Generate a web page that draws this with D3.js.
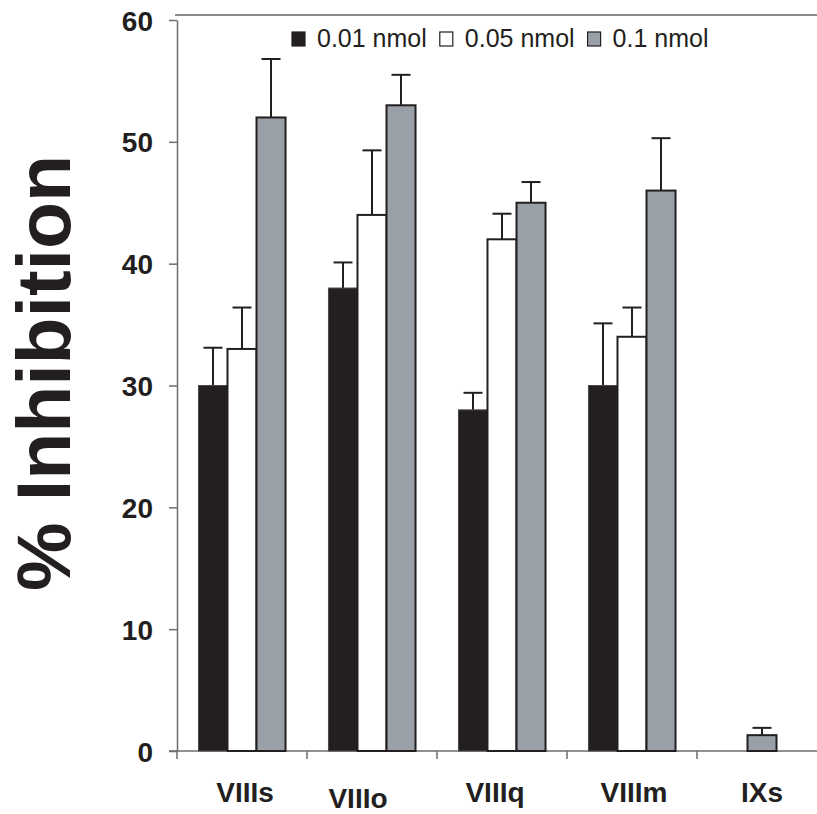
<!DOCTYPE html>
<html>
<head>
<meta charset="utf-8">
<script src="https://cdn.jsdelivr.net/npm/d3@7"></script>
<style>
  body { margin: 0; background: #fff; }
  svg { display: block; font-family: "Liberation Sans", Arial, sans-serif; }
</style>
</head>
<body>
<div id="chart"></div>
<script>
//data
var categories = ["VIIIs", "VIIIo", "VIIIq", "VIIIm", "IXs"];
var seriesNames = ["0.01 nmol", "0.05 nmol", "0.1 nmol"];
var dose001 = [30, 38, 28, 30, null];
var dose005 = [33, 44, 42, 34, null];
var dose01 = [52, 53, 45, 46, 1.3];
var err001 = [3.1, 2.1, 1.4, 5.1, null];
var err005 = [3.4, 5.3, 2.1, 2.4, null];
var err01 = [4.8, 2.5, 1.7, 4.3, 0.6];
var yTicks = [0, 10, 20, 30, 40, 50, 60];

var values = [dose001, dose005, dose01];
var errors = [err001, err005, err01];
var fills = ["#231f20", "#ffffff", "#9aa0a7"];
var ink = "#231f20";

//svg size
var svgWidth = 817;
var svgHeight = 814;

var svg = d3.select("#chart")
  .append("svg")
  .attr("width", svgWidth)
  .attr("height", svgHeight);

//scales
var x0 = d3.scaleBand()
  .domain(categories)
  .range([177, 177 + 130 * categories.length])
  .paddingInner(0)
  .paddingOuter(0);

var x1 = d3.scaleBand()
  .domain(seriesNames)
  .range([0, x0.bandwidth()])
  .paddingInner(0)
  .paddingOuter(0.74);

var y = d3.scaleLinear()
  .domain([0, 60])
  .range([751, 20]);

//top frame line
svg.append("line")
  .attr("x1", 175).attr("x2", svgWidth)
  .attr("y1", 15).attr("y2", 15)
  .attr("stroke", "#8a8a8a")
  .attr("stroke-width", 2);

//y axis
var leftAxis = d3.axisLeft(y)
  .tickValues(yTicks)
  .tickSize(8)
  .tickPadding(16)
  .tickSizeOuter(0);

var yAxis = svg.append("g")
  .attr("transform", "translate(177, 0)")
  .call(leftAxis);

yAxis.select(".domain").attr("stroke", "#6d6d6d").attr("stroke-width", 1.5);
yAxis.selectAll(".tick line").attr("stroke", "#6d6d6d").attr("stroke-width", 1.5);
yAxis.selectAll(".tick text")
  .attr("fill", ink)
  .attr("font-size", 28)
  .attr("font-weight", "bold")
  .attr("font-family", "Liberation Sans, Arial, sans-serif")
  .attr("dy", "0.36em");

//x axis line and ticks
svg.append("line")
  .attr("x1", 169).attr("x2", svgWidth)
  .attr("y1", y(0)).attr("y2", y(0))
  .attr("stroke", "#6d6d6d")
  .attr("stroke-width", 1.5);

svg.selectAll("line.xtick")
  .data(categories)
  .enter()
  .append("line")
  .attr("class", "xtick")
  .attr("x1", d => x0(d)).attr("x2", d => x0(d))
  .attr("y1", y(0)).attr("y2", y(0) + 8)
  .attr("stroke", "#6d6d6d")
  .attr("stroke-width", 1.5);

//x labels, small nudges as in the original layout
var labelNudge = { VIIIs: [3, 0], VIIIo: [-14, 6], VIIIq: [-7, 0], VIIIm: [2, 0], IXs: [0, 0] };

svg.selectAll("text.xlabel")
  .data(categories)
  .enter()
  .append("text")
  .attr("class", "xlabel")
  .attr("x", d => x0(d) + x0.bandwidth() / 2 + labelNudge[d][0])
  .attr("y", 802)
  .attr("dy", d => labelNudge[d][1])
  .attr("text-anchor", "middle")
  .attr("font-size", 28)
  .attr("font-weight", "bold")
  .attr("fill", ink)
  .text(d => d);

//flatten bars
var bars = [];
categories.forEach(function(c, i) {
  var present = seriesNames.filter((s, j) => values[j][i] != null);
  seriesNames.forEach(function(s, j) {
    if (values[j][i] == null) return;
    var bx = present.length === 1
      ? x0(c) + x0.bandwidth() / 2 - x1.bandwidth() / 2
      : x0(c) + x1(s);
    bars.push({ cat: c, series: j, value: values[j][i], err: errors[j][i], x: bx });
  });
});

var bw = x1.bandwidth();

//error bars (drawn first so the bar outline sits on top)
var errGroup = svg.append("g");
errGroup.selectAll("line.err")
  .data(bars)
  .enter()
  .append("line")
  .attr("x1", d => d.x + bw / 2).attr("x2", d => d.x + bw / 2)
  .attr("y1", d => y(d.value)).attr("y2", d => y(d.value + d.err))
  .attr("stroke", ink)
  .attr("stroke-width", 2);

errGroup.selectAll("line.cap")
  .data(bars)
  .enter()
  .append("line")
  .attr("x1", d => d.x + bw / 2 - 9.5).attr("x2", d => d.x + bw / 2 + 9.5)
  .attr("y1", d => y(d.value + d.err)).attr("y2", d => y(d.value + d.err))
  .attr("stroke", ink)
  .attr("stroke-width", 2);

//bars
svg.append("g").selectAll("rect")
  .data(bars)
  .enter()
  .append("rect")
  .attr("x", d => d.x)
  .attr("y", d => y(d.value))
  .attr("width", bw)
  .attr("height", d => y(0) - y(d.value))
  .attr("fill", d => fills[d.series])
  .attr("stroke", d => d.series === 0 ? "#4a4a4a" : ink)
  .attr("stroke-width", d => d.series === 0 ? 1 : 2);

//legend
var legend = svg.append("g");
var lx = 292;
seriesNames.forEach(function(s, j) {
  legend.append("rect")
    .attr("x", lx).attr("y", 32)
    .attr("width", 13).attr("height", 14)
    .attr("fill", fills[j])
    .attr("stroke", ink)
    .attr("stroke-width", 1.2);
  var t = legend.append("text")
    .attr("x", lx + 25).attr("y", 47)
    .attr("font-size", 25)
    .attr("fill", ink)
    .text(s);
  lx += 25 + t.node().getComputedTextLength() + 13;
});

//y axis title
svg.append("text")
  .attr("transform", "translate(70, 373) rotate(-90)")
  .attr("text-anchor", "middle")
  .attr("font-size", 76)
  .attr("font-weight", "bold")
  .attr("fill", ink)
  .attr("textLength", 436)
  .attr("lengthAdjust", "spacingAndGlyphs")
  .text("% Inhibition");
</script>
</body>
</html>
